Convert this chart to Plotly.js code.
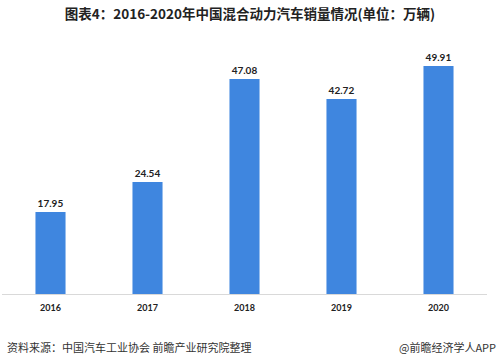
<!DOCTYPE html>
<html>
<head>
<meta charset="utf-8">
<script src="https://cdn.plot.ly/plotly-3.0.1.min.js"></script>
<style>html,body{margin:0;padding:0;background:#fff;}#chart{width:500px;height:362px;}</style>
</head>
<body>
<div id="chart"></div>
<script>
const years = ['2016', '2017', '2018', '2019', '2020'];
const sales = [17.95, 24.54, 47.08, 42.72, 49.91];
const valueLabels = ['17.95', '24.54', '47.08', '42.72', '49.91'];
const titleText = '图表4：2016-2020年中国混合动力汽车销量情况(单位：万辆)';
const sourceText = '资料来源：中国汽车工业协会 前瞻产业研究院整理';
const brandText = '@前瞻经济学人APP';

const cjk = '"Noto Sans CJK SC", "Noto Sans", sans-serif';
const num = 'Lato, "Noto Sans", sans-serif';

const trace = {
  type: 'bar',
  x: years,
  y: sales,
  text: valueLabels,
  textposition: 'outside',
  cliponaxis: false,
  textfont: {family: num, size: 10, color: '#222', weight: 'bold'},
  marker: {color: '#3F86DF'},
  hoverinfo: 'none'
};

const layout = {
  width: 500, height: 362,
  margin: {l: 2, r: 13, t: 20, b: 68},
  paper_bgcolor: '#fff', plot_bgcolor: '#fff',
  bargap: 0.69,
  showlegend: false,
  title: {
    text: titleText, xref: 'container', yref: 'container',
    x: 0.5, xanchor: 'center', y: 0.961, yanchor: 'middle',
    font: {family: cjk, size: 13.5, color: '#222', weight: 'bold'}
  },
  xaxis: {
    type: 'category',
    showline: true, linecolor: '#d9d9d9', linewidth: 1,
    ticks: '', showgrid: false, zeroline: false,
    tickfont: {family: num, size: 9, color: '#222', weight: 'bold'},
    ticklabelstandoff: 5
  },
  yaxis: {
    range: [0, 60], visible: false, showgrid: false, zeroline: false
  },
  annotations: [
    {
      text: sourceText, xref: 'paper', yref: 'paper', x: 0.006, y: -0.193,
      xanchor: 'left', yanchor: 'middle', showarrow: false,
      font: {family: cjk, size: 11, color: '#333'}
    },
    {
      text: brandText, xref: 'paper', yref: 'paper', x: 1.023, y: -0.193,
      xanchor: 'right', yanchor: 'middle', showarrow: false,
      font: {family: cjk, size: 11, color: '#333'}
    }
  ]
};

Plotly.newPlot('chart', [trace], layout, {displayModeBar: false, staticPlot: true});
</script>
</body>
</html>
